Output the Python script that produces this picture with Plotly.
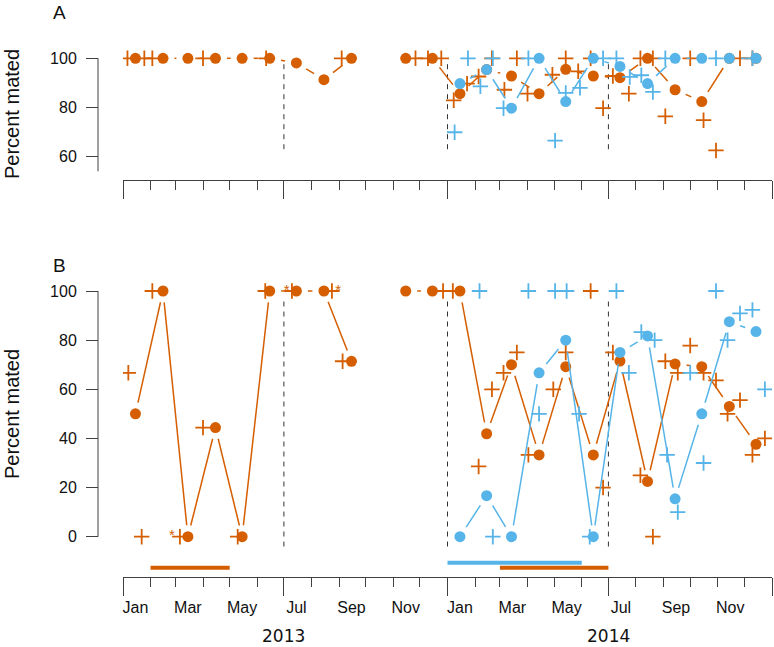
import plotly.graph_objects as go
import pandas as pd
import math

ORANGE = "#D55E00"
BLUE = "#56B4E9"
AXC = "#404040"
FONT = "Liberation Sans, Arial, sans-serif"

# ---------------- data ----------------
# monthly sample dates (circles)
circle_dates = [
    "2013-01-15", "2013-02-15", "2013-03-15", "2013-04-15", "2013-05-15", "2013-06-15",
    "2013-07-15", "2013-08-15", "2013-09-15", "2013-10-15", "2013-11-15", "2013-12-15",
    "2014-01-15", "2014-02-14", "2014-03-14", "2014-04-14", "2014-05-14", "2014-06-14",
    "2014-07-14", "2014-08-14", "2014-09-14", "2014-10-14", "2014-11-14", "2014-12-14",
]
# Panel A (circles, monthly)
A_orange_circles = [100, 100, 100, 100, 100, 100, 98.1, 91.3, 100, None, 100, 100,
                    85.6, 95.4, 92.8, 85.6, 95.5, 92.8, 92.1, 100, 87.2, 82.4, 100, 100]
A_blue_circles = [None] * 12 + [89.7, 95.4, 79.7, 100, 82.4, 100, 96.7, 89.7, 100, 100, 100, 100]
# Panel B (circles, monthly)
B_orange_circles = [50, 100, 0, 44.4, 0, 100, 100, 100, 71.4, None, 100, 100,
                    100, 41.9, 70, 33.3, 69.2, 33.3, 71.5, 22.5, 70.3, 69.2, 53, 37.6]
B_blue_circles = [None] * 12 + [0, 16.7, 0, 66.7, 80, 0, 75, 81.7, 15.4, 50, 87.5, 83.5]

# Panel A crosses
A_orange_plus_dates = ["2013-01-06", "2013-01-25", "2013-02-03", "2013-04-01", "2013-06-11",
                       "2013-09-04", "2013-11-26", "2013-12-10", "2013-12-25",
                       "2014-01-08", "2014-01-23", "2014-02-05", "2014-02-20", "2014-03-06",
                       "2014-03-20", "2014-04-01", "2014-04-29", "2014-05-14", "2014-05-28",
                       "2014-06-11", "2014-06-25", "2014-07-06", "2014-07-24", "2014-08-06",
                       "2014-08-20", "2014-09-03", "2014-10-01", "2014-10-16", "2014-10-30",
                       "2014-11-26", "2014-12-10"]
A_orange_plus_vals = [100, 100, 100, 100, 100,
                      100, 100, 100, 100,
                      82.9, 89.7, 92.6, 100, 87.2,
                      100, 85.6, 93.3, 100, 94.7,
                      100, 79.7, 92.8, 85.6, 100,
                      100, 76.4, 100, 74.8, 62.5,
                      100, 100]
A_blue_plus_dates = ["2014-01-09", "2014-01-24", "2014-02-07", "2014-02-21", "2014-03-05",
                     "2014-04-02", "2014-05-02", "2014-05-14", "2014-05-30", "2014-06-25",
                     "2014-07-10", "2014-07-25", "2014-08-07", "2014-08-20", "2014-09-03",
                     "2014-10-30", "2014-12-10"]
A_blue_plus_vals = [69.9, 100, 88.6, 100, 79.7,
                    100, 66.5, 85.9, 88.0, 100,
                    100, 92.4, 93.1, 86.3, 100,
                    100, 100]

# Panel B crosses
B_orange_plus_dates = ["2013-01-07", "2013-01-22", "2013-02-03", "2013-03-06", "2013-04-01",
                       "2013-05-10", "2013-06-10", "2013-07-10", "2013-08-24", "2013-09-05",
                       "2013-12-27", "2014-01-07", "2014-02-05", "2014-02-20", "2014-03-05",
                       "2014-03-20", "2014-04-02", "2014-04-30", "2014-05-14", "2014-06-11",
                       "2014-06-25", "2014-07-06", "2014-08-06", "2014-08-20", "2014-09-03",
                       "2014-09-17", "2014-10-01", "2014-10-16", "2014-10-30", "2014-11-12",
                       "2014-11-26", "2014-12-10", "2014-12-24"]
B_orange_plus_vals = [66.7, 0, 100, 0, 44.4,
                      0, 100, 100, 100, 71.4,
                      100, 100, 28.6, 60, 66.7,
                      75, 33.3, 60, 75, 100,
                      20, 75, 25, 0, 71.4,
                      66.7, 77.8, 66.7, 63.6, 50,
                      55.6, 33.3, 40]
B_blue_plus_dates = ["2014-02-06", "2014-02-21", "2014-04-02", "2014-04-14", "2014-05-02",
                     "2014-05-15", "2014-05-29", "2014-06-10", "2014-07-10", "2014-07-24",
                     "2014-08-07", "2014-08-22", "2014-09-05", "2014-09-17", "2014-10-01",
                     "2014-10-16", "2014-10-30", "2014-11-12", "2014-11-26", "2014-12-10",
                     "2014-12-24"]
B_blue_plus_vals = [100, 0, 100, 50, 100,
                    100, 50, 0, 100, 66.7,
                    83.3, 80, 33.3, 10, 66.7,
                    30, 100, 80, 90.9, 92.3,
                    60]
# asterisks (panel B)
B_star_dates = ["2013-02-25", "2013-07-04", "2013-08-31"]
B_star_vals = [0, 100, 100]

# period bars under panel B
orange_periods = [("2013-02-01", "2013-05-01"), ("2014-03-01", "2014-07-01")]
blue_periods = [("2014-01-01", "2014-06-01")]
orange_period_level = -12.6
blue_period_level = -10.6

season_breaks = ["2013-07-01", "2014-01-01", "2014-07-01"]
month_label_dates = ["2013-01-15", "2013-03-15", "2013-05-15", "2013-07-15", "2013-09-15",
                     "2013-11-15", "2014-01-15", "2014-03-15", "2014-05-15", "2014-07-15",
                     "2014-09-15", "2014-11-15"]
month_labels = ["Jan", "Mar", "May", "Jul", "Sep", "Nov"] * 2
year_labels = ["2013", "2014"]
year_label_dates = ["2013-07-01", "2014-07-01"]
A_ticks = [60, 80, 100]
B_ticks = [0, 20, 40, 60, 80, 100]

# ---------------- layout geometry (pixels) ----------------
W, H = 774, 647
X_L, X_R = 123, 772          # x-axis extent (Jan 2013 .. Jan 2015)
Y_AX_X = 98                  # y axis line position
PX_PER_UNIT = 2.457
A_top, A_bot = 42, 180       # panel A plot area
A_100 = 58.3                 # pixel of value 100 in A
B_top, B_bot = 278, 577
B_0 = 536.7                  # pixel of value 0 in B
X_START, X_END = pd.Timestamp("2013-01-01"), pd.Timestamp("2015-01-01")
PX_PER_DAY = (X_R - X_L) / (X_END - X_START).days

A_range = [100 - (A_bot - A_100) / PX_PER_UNIT, 100 + (A_100 - A_top) / PX_PER_UNIT]
B_range = [0 - (B_bot - B_0) / PX_PER_UNIT, (B_0 - B_top) / PX_PER_UNIT]


def px(x):
    return x / W


def py(y):
    return 1 - y / H


def gapped(dates, vals, gap=11.5):
    """R type='b' style: connect consecutive points, leaving a gap around each."""
    xs, ys = [], []
    ts = [pd.Timestamp(d) for d in dates]
    for i in range(len(ts) - 1):
        v0, v1 = vals[i], vals[i + 1]
        if v0 is None or v1 is None:
            continue
        dxp = (ts[i + 1] - ts[i]).days * PX_PER_DAY
        dyp = (v1 - v0) * PX_PER_UNIT
        L = math.hypot(dxp, dyp)
        if L <= 2 * gap:
            continue
        f0, f1 = gap / L, 1 - gap / L
        xs += [ts[i] + (ts[i + 1] - ts[i]) * f0, ts[i] + (ts[i + 1] - ts[i]) * f1, None]
        ys += [v0 + (v1 - v0) * f0, v0 + (v1 - v0) * f1, None]
    return xs, ys


fig = go.Figure()


def add_series(xa, ya, dates, vals, color, mode):
    if mode == "line":
        gx, gy = gapped(dates, vals)
        fig.add_trace(go.Scatter(x=gx, y=gy, mode="lines", xaxis=xa, yaxis=ya,
                                 line=dict(color=color, width=1.5), hoverinfo="skip"))
    elif mode == "circle":
        fig.add_trace(go.Scatter(x=dates, y=vals, mode="markers", xaxis=xa, yaxis=ya,
                                 marker=dict(symbol="circle", size=11, color=color)))
    elif mode == "plus":
        fig.add_trace(go.Scatter(x=dates, y=vals, mode="markers", xaxis=xa, yaxis=ya,
                                 marker=dict(symbol="cross-thin", size=11,
                                             line=dict(color=color, width=1.8))))


# Panel A
add_series("x", "y", circle_dates, A_orange_circles, ORANGE, "line")
add_series("x", "y", circle_dates, A_orange_circles, ORANGE, "circle")
add_series("x", "y", A_orange_plus_dates, A_orange_plus_vals, ORANGE, "plus")
add_series("x", "y", circle_dates, A_blue_circles, BLUE, "line")
add_series("x", "y", circle_dates, A_blue_circles, BLUE, "circle")
add_series("x", "y", A_blue_plus_dates, A_blue_plus_vals, BLUE, "plus")
# Panel B
add_series("x2", "y2", circle_dates, B_orange_circles, ORANGE, "line")
add_series("x2", "y2", circle_dates, B_orange_circles, ORANGE, "circle")
add_series("x2", "y2", B_orange_plus_dates, B_orange_plus_vals, ORANGE, "plus")
add_series("x2", "y2", circle_dates, B_blue_circles, BLUE, "line")
add_series("x2", "y2", circle_dates, B_blue_circles, BLUE, "circle")
add_series("x2", "y2", B_blue_plus_dates, B_blue_plus_vals, BLUE, "plus")
fig.add_trace(go.Scatter(x=B_star_dates, y=B_star_vals, mode="text", text=["*"] * len(B_star_dates),
                         textfont=dict(color=ORANGE, size=15, family=FONT), xaxis="x2", yaxis="y2"))
# period bars
for (s, e) in orange_periods:
    fig.add_trace(go.Scatter(x=[s, e], y=[orange_period_level] * 2, mode="lines", xaxis="x2", yaxis="y2",
                             line=dict(color=ORANGE, width=4)))
for (s, e) in blue_periods:
    fig.add_trace(go.Scatter(x=[s, e], y=[blue_period_level] * 2, mode="lines", xaxis="x2", yaxis="y2",
                             line=dict(color=BLUE, width=4)))
# carrier trace for month-label axis
fig.add_trace(go.Scatter(x=month_label_dates, y=[None] * len(month_label_dates), mode="markers",
                         xaxis="x3", yaxis="y2", hoverinfo="skip"))

xcommon = dict(type="date", domain=[px(X_L), px(X_R)], range=[X_START, X_END], anchor="free",
               showgrid=False, zeroline=False, showline=True, linecolor=AXC, linewidth=1,
               ticks="outside", tickmode="linear", tick0="2013-01-01", dtick="M6",
               ticklen=18, tickwidth=1, tickcolor=AXC, showticklabels=False,
               minor=dict(ticks="outside", ticklen=9, tickwidth=1, tickcolor=AXC,
                          tick0="2013-01-01", dtick="M1", showgrid=False))
ycommon = dict(anchor="free", position=px(Y_AX_X), showgrid=False, zeroline=False, showline=False,
               ticks="outside", ticklen=12, tickwidth=1, tickcolor=AXC, tickmode="array",
               tickfont=dict(family=FONT, size=16, color="#111"), ticklabelstandoff=6)

shapes = []
# y axis lines
shapes.append(dict(type="line", xref="paper", yref="y", x0=px(Y_AX_X), x1=px(Y_AX_X), y0=100, y1=54,
                   line=dict(color=AXC, width=1)))
shapes.append(dict(type="line", xref="paper", yref="y2", x0=px(Y_AX_X), x1=px(Y_AX_X), y0=0, y1=100,
                   line=dict(color=AXC, width=1)))
for d in season_breaks:
    shapes.append(dict(type="line", xref="x", yref="y", x0=d, x1=d, y0=63, y1=99.5,
                       line=dict(color="#333", width=1, dash="5px,5px"), layer="below"))
    shapes.append(dict(type="line", xref="x2", yref="y2", x0=d, x1=d, y0=-4, y1=97,
                       line=dict(color="#333", width=1, dash="5px,5px"), layer="below"))

centered = dict(xref="paper", yref="paper", showarrow=False, xanchor="center", yanchor="middle")
annotations = [
    dict(centered, text="A", x=px(59), y=py(12), font=dict(family=FONT, size=19, color="#111")),
    dict(centered, text="B", x=px(59), y=py(266), font=dict(family=FONT, size=19, color="#111")),
    dict(centered, text="Percent mated", x=px(12), y=py(114), textangle=-90,
         font=dict(family=FONT, size=20, color="#111")),
    dict(centered, text="Percent mated", x=px(12), y=py(414), textangle=-90,
         font=dict(family=FONT, size=20, color="#111")),
]
for t, d in zip(year_labels, year_label_dates):
    annotations.append(dict(text=t, x=d, y=py(636), xref="x2", yref="paper", showarrow=False,
                            xanchor="center", yanchor="middle",
                            font=dict(family="DejaVu Sans", size=17, color="#111")))

fig.update_layout(
    width=W, height=H, margin=dict(l=0, r=0, t=0, b=0),
    paper_bgcolor="white", plot_bgcolor="white", showlegend=False,
    xaxis=dict(xcommon, position=py(A_bot)),
    yaxis=dict(ycommon, domain=[py(A_bot), py(A_top)], range=A_range, tickvals=A_ticks),
    xaxis2=dict(xcommon, position=py(B_bot)),
    yaxis2=dict(ycommon, domain=[py(B_bot), py(B_top)], range=B_range, tickvals=B_ticks),
    xaxis3=dict(type="date", overlaying="x2", anchor="free", position=py(B_bot),
                domain=[px(X_L), px(X_R)], range=[X_START, X_END], showgrid=False, zeroline=False,
                showline=False, ticks="outside", ticklen=16, tickcolor="rgba(0,0,0,0)",
                tickmode="array", tickvals=month_label_dates, ticktext=month_labels,
                tickfont=dict(family=FONT, size=16, color="#111")),
    shapes=shapes, annotations=annotations,
)

fig.write_html("out.html", config={"displayModeBar": False},
               post_script="document.body.style.margin='0';document.body.style.overflow='hidden';")
